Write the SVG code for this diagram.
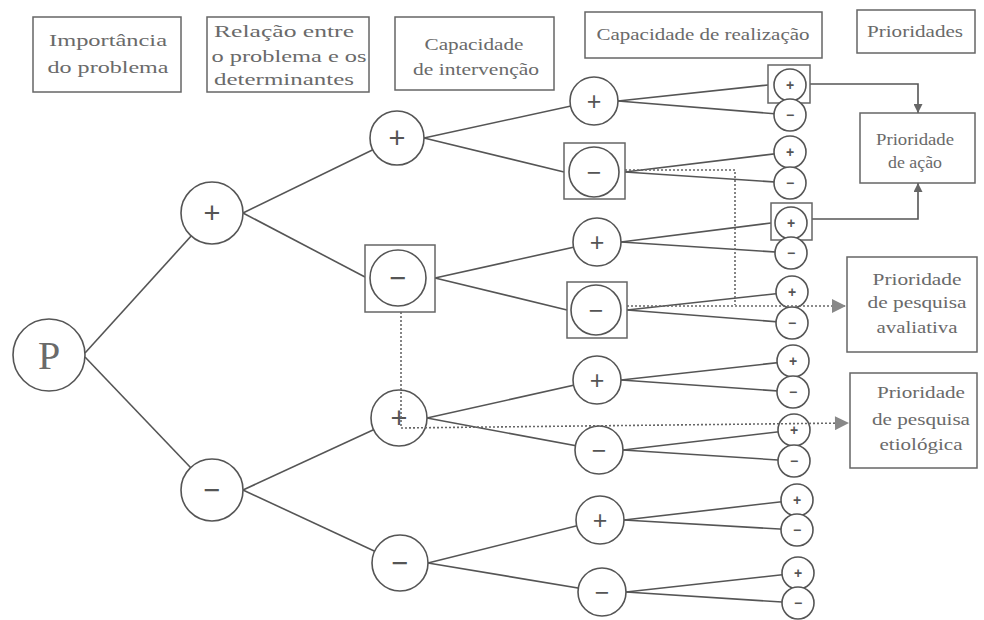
<svg xmlns="http://www.w3.org/2000/svg" width="984" height="620" viewBox="0 0 984 620">
<defs>
<style>
.bg{fill:#ffffff}
.edge{stroke:#555;stroke-width:1.6;fill:none}
.dot{stroke:#666;stroke-width:1.6;fill:none;stroke-dasharray:2 2}
.hbox{fill:#fff;stroke:#666;stroke-width:1.5}
.c{fill:#fff;stroke:#555;stroke-width:1.6}
.lbl{font-family:"Liberation Serif","DejaVu Serif",serif;fill:#6a6a6a;text-anchor:middle}
.h{font-size:17px}
.p{font-size:16px}
.sg{font-family:"Liberation Sans","DejaVu Sans",sans-serif;fill:#555;text-anchor:middle;dominant-baseline:central}
.sb{font-size:29px}
.sm{font-size:25px}
.ss{font-size:14px;font-weight:bold}
</style>
<marker id="ah" viewBox="0 0 10 10" refX="10" refY="5" markerWidth="9" markerHeight="9" markerUnits="userSpaceOnUse" orient="auto">
<path d="M0,0 L10,5 L0,10 Z" fill="#666"/>
</marker>
<marker id="ahd" viewBox="0 0 10 10" refX="10" refY="5" markerWidth="15" markerHeight="14" markerUnits="userSpaceOnUse" orient="auto">
<path d="M0,0 L10,5 L0,10 Z" fill="#888"/>
</marker>
</defs>
<rect class="bg" x="0" y="0" width="984" height="620"/>

<g id="headers">
<g id="h-importancia">
<rect class="hbox" x="33" y="17" width="148" height="75"/>
<text class="lbl h" x="108" y="46" textLength="118" lengthAdjust="spacingAndGlyphs">Importância</text>
<text class="lbl h" x="108" y="73" textLength="121" lengthAdjust="spacingAndGlyphs">do problema</text>
</g>
<g id="h-relacao">
<rect class="hbox" x="207" y="17" width="162" height="75"/>
<text class="lbl h" x="284" y="37" textLength="140" lengthAdjust="spacingAndGlyphs">Relação entre</text>
<text class="lbl h" x="289" y="62" textLength="155" lengthAdjust="spacingAndGlyphs">o problema e os</text>
<text class="lbl h" x="284" y="85" textLength="140" lengthAdjust="spacingAndGlyphs">determinantes</text>
</g>
<g id="h-intervencao">
<rect class="hbox" x="395" y="17" width="159" height="73"/>
<text class="lbl h" x="474" y="50" textLength="99" lengthAdjust="spacingAndGlyphs">Capacidade</text>
<text class="lbl h" x="476" y="75" textLength="126" lengthAdjust="spacingAndGlyphs">de intervenção</text>
</g>
<g id="h-realizacao">
<rect class="hbox" x="585" y="12" width="237" height="46"/>
<text class="lbl h" x="703" y="40" textLength="213" lengthAdjust="spacingAndGlyphs">Capacidade de realização</text>
</g>
<g id="h-prioridades">
<rect class="hbox" x="857" y="10" width="118" height="43"/>
<text class="lbl p" x="915" y="37" textLength="96" lengthAdjust="spacingAndGlyphs">Prioridades</text>
</g>
</g>

<g id="connectors">
<line class="edge" x1="85" y1="353" x2="212" y2="213"/>
<line class="edge" x1="85" y1="357" x2="212" y2="490"/>
<line class="edge" x1="243" y1="213" x2="397" y2="138"/>
<line class="edge" x1="243" y1="213" x2="365" y2="277"/>
<line class="edge" x1="243" y1="490" x2="399" y2="418"/>
<line class="edge" x1="243" y1="490" x2="400" y2="563"/>
<line class="edge" x1="424" y1="138" x2="594" y2="101"/>
<line class="edge" x1="424" y1="138" x2="564" y2="172"/>
<line class="edge" x1="435" y1="278" x2="597" y2="242"/>
<line class="edge" x1="435" y1="278" x2="567" y2="310"/>
<line class="edge" x1="427" y1="418" x2="597" y2="380"/>
<line class="edge" x1="427" y1="418" x2="599" y2="450"/>
<line class="edge" x1="428" y1="563" x2="600" y2="520"/>
<line class="edge" x1="428" y1="563" x2="602" y2="592"/>
<line class="edge" x1="618" y1="101" x2="768" y2="85"/>
<line class="edge" x1="618" y1="101" x2="790" y2="115"/>
<line class="edge" x1="625" y1="172" x2="790" y2="152"/>
<line class="edge" x1="625" y1="172" x2="790" y2="183"/>
<line class="edge" x1="621" y1="242" x2="771" y2="223"/>
<line class="edge" x1="621" y1="242" x2="791" y2="253"/>
<line class="edge" x1="627" y1="310" x2="792" y2="292"/>
<line class="edge" x1="627" y1="310" x2="792" y2="323"/>
<line class="edge" x1="621" y1="380" x2="793" y2="361"/>
<line class="edge" x1="621" y1="380" x2="793" y2="392"/>
<line class="edge" x1="623" y1="450" x2="794" y2="430"/>
<line class="edge" x1="623" y1="450" x2="794" y2="461"/>
<line class="edge" x1="624" y1="520" x2="797" y2="500"/>
<line class="edge" x1="624" y1="520" x2="797" y2="530"/>
<line class="edge" x1="626" y1="592" x2="798" y2="573"/>
<line class="edge" x1="626" y1="592" x2="798" y2="603"/>
<polyline class="edge" points="810,84 918,84 918,113" marker-end="url(#ah)"/>
<polyline class="edge" points="812,219 918,219 918,183" marker-end="url(#ah)"/>
</g>

<g id="n-P"><circle class="c" cx="49" cy="355" r="36"/><text class="lbl" x="49" y="369" font-size="40">P</text></g>

<g id="n-1p"><circle class="c" cx="212" cy="213" r="31"/><text class="sg sb" x="212" y="213">+</text></g>
<g id="n-1m"><circle class="c" cx="212" cy="490" r="31"/><text class="sg sb" x="212" y="490">−</text></g>

<g id="n-2a"><circle class="c" cx="397" cy="138" r="27"/><text class="sg sb" x="397" y="138">+</text></g>
<g id="n-2b"><rect class="hbox" x="365" y="245" width="70" height="67"/><circle class="c" cx="398" cy="278" r="28"/><text class="sg sb" x="398" y="278">−</text></g>
<g id="n-2c"><circle class="c" cx="399" cy="418" r="28"/><text class="sg sb" x="399" y="418">+</text></g>
<g id="n-2d"><circle class="c" cx="400" cy="563" r="28"/><text class="sg sb" x="400" y="563">−</text></g>

<g id="n-3a"><circle class="c" cx="594" cy="101" r="24"/><text class="sg sm" x="594" y="101">+</text></g>
<g id="n-3b"><rect class="hbox" x="564" y="143" width="61" height="56"/><circle class="c" cx="594" cy="172" r="25"/><text class="sg sm" x="594" y="172">−</text></g>
<g id="n-3c"><circle class="c" cx="597" cy="242" r="24"/><text class="sg sm" x="597" y="242">+</text></g>
<g id="n-3d"><rect class="hbox" x="567" y="282" width="60" height="56"/><circle class="c" cx="596" cy="310" r="25"/><text class="sg sm" x="596" y="310">−</text></g>
<g id="n-3e"><circle class="c" cx="597" cy="380" r="24"/><text class="sg sm" x="597" y="380">+</text></g>
<g id="n-3f"><circle class="c" cx="599" cy="450" r="24"/><text class="sg sm" x="599" y="450">−</text></g>
<g id="n-3g"><circle class="c" cx="600" cy="520" r="24"/><text class="sg sm" x="600" y="520">+</text></g>
<g id="n-3h"><circle class="c" cx="602" cy="592" r="24"/><text class="sg sm" x="602" y="592">−</text></g>

<g id="n-4a"><rect class="hbox" x="768" y="65" width="42" height="38"/><circle class="c" cx="790" cy="85" r="16"/><text class="sg ss" x="790" y="85">+</text></g>
<g id="n-4b"><circle class="c" cx="790" cy="115" r="16"/><text class="sg ss" x="790" y="115">−</text></g>
<g id="n-4c"><circle class="c" cx="790" cy="152" r="16"/><text class="sg ss" x="790" y="152">+</text></g>
<g id="n-4d"><circle class="c" cx="790" cy="183" r="16"/><text class="sg ss" x="790" y="183">−</text></g>
<g id="n-4e"><rect class="hbox" x="771" y="203" width="41" height="37"/><circle class="c" cx="791" cy="223" r="16"/><text class="sg ss" x="791" y="223">+</text></g>
<g id="n-4f"><circle class="c" cx="791" cy="253" r="16"/><text class="sg ss" x="791" y="253">−</text></g>
<g id="n-4g"><circle class="c" cx="792" cy="292" r="16"/><text class="sg ss" x="792" y="292">+</text></g>
<g id="n-4h"><circle class="c" cx="792" cy="323" r="16"/><text class="sg ss" x="792" y="323">−</text></g>
<g id="n-4i"><circle class="c" cx="793" cy="361" r="16"/><text class="sg ss" x="793" y="361">+</text></g>
<g id="n-4j"><circle class="c" cx="793" cy="392" r="16"/><text class="sg ss" x="793" y="392">−</text></g>
<g id="n-4k"><circle class="c" cx="794" cy="430" r="16"/><text class="sg ss" x="794" y="430">+</text></g>
<g id="n-4l"><circle class="c" cx="794" cy="461" r="16"/><text class="sg ss" x="794" y="461">−</text></g>
<g id="n-4m"><circle class="c" cx="797" cy="500" r="16"/><text class="sg ss" x="797" y="500">+</text></g>
<g id="n-4n"><circle class="c" cx="797" cy="530" r="16"/><text class="sg ss" x="797" y="530">−</text></g>
<g id="n-4o"><circle class="c" cx="798" cy="573" r="16"/><text class="sg ss" x="798" y="573">+</text></g>
<g id="n-4p"><circle class="c" cx="798" cy="603" r="16"/><text class="sg ss" x="798" y="603">−</text></g>

<g id="pr-acao">
<rect class="hbox" x="860" y="113" width="115" height="70"/>
<text class="lbl p" x="915" y="145" textLength="78" lengthAdjust="spacingAndGlyphs">Prioridade</text>
<text class="lbl p" x="915" y="168" textLength="54" lengthAdjust="spacingAndGlyphs">de ação</text>
</g>
<g id="pr-avaliativa">
<rect class="hbox" x="847" y="257" width="130" height="95"/>
<text class="lbl p" x="917" y="285" textLength="89" lengthAdjust="spacingAndGlyphs">Prioridade</text>
<text class="lbl p" x="917" y="308" textLength="99" lengthAdjust="spacingAndGlyphs">de pesquisa</text>
<text class="lbl p" x="917" y="333" textLength="81" lengthAdjust="spacingAndGlyphs">avaliativa</text>
</g>
<g id="pr-etiologica">
<rect class="hbox" x="850" y="373" width="127" height="95"/>
<text class="lbl p" x="921" y="398" textLength="88" lengthAdjust="spacingAndGlyphs">Prioridade</text>
<text class="lbl p" x="921" y="425" textLength="98" lengthAdjust="spacingAndGlyphs">de pesquisa</text>
<text class="lbl p" x="921" y="450" textLength="83" lengthAdjust="spacingAndGlyphs">etiológica</text>
</g>

<g id="connectors-dotted">
<polyline class="dot" points="625,170 735,170 735,305"/>
<line class="dot" x1="627" y1="306" x2="846" y2="306" marker-end="url(#ahd)"/>
<polyline class="dot" points="401,312 401,428 849,423" marker-end="url(#ahd)"/>
</g>
</svg>
